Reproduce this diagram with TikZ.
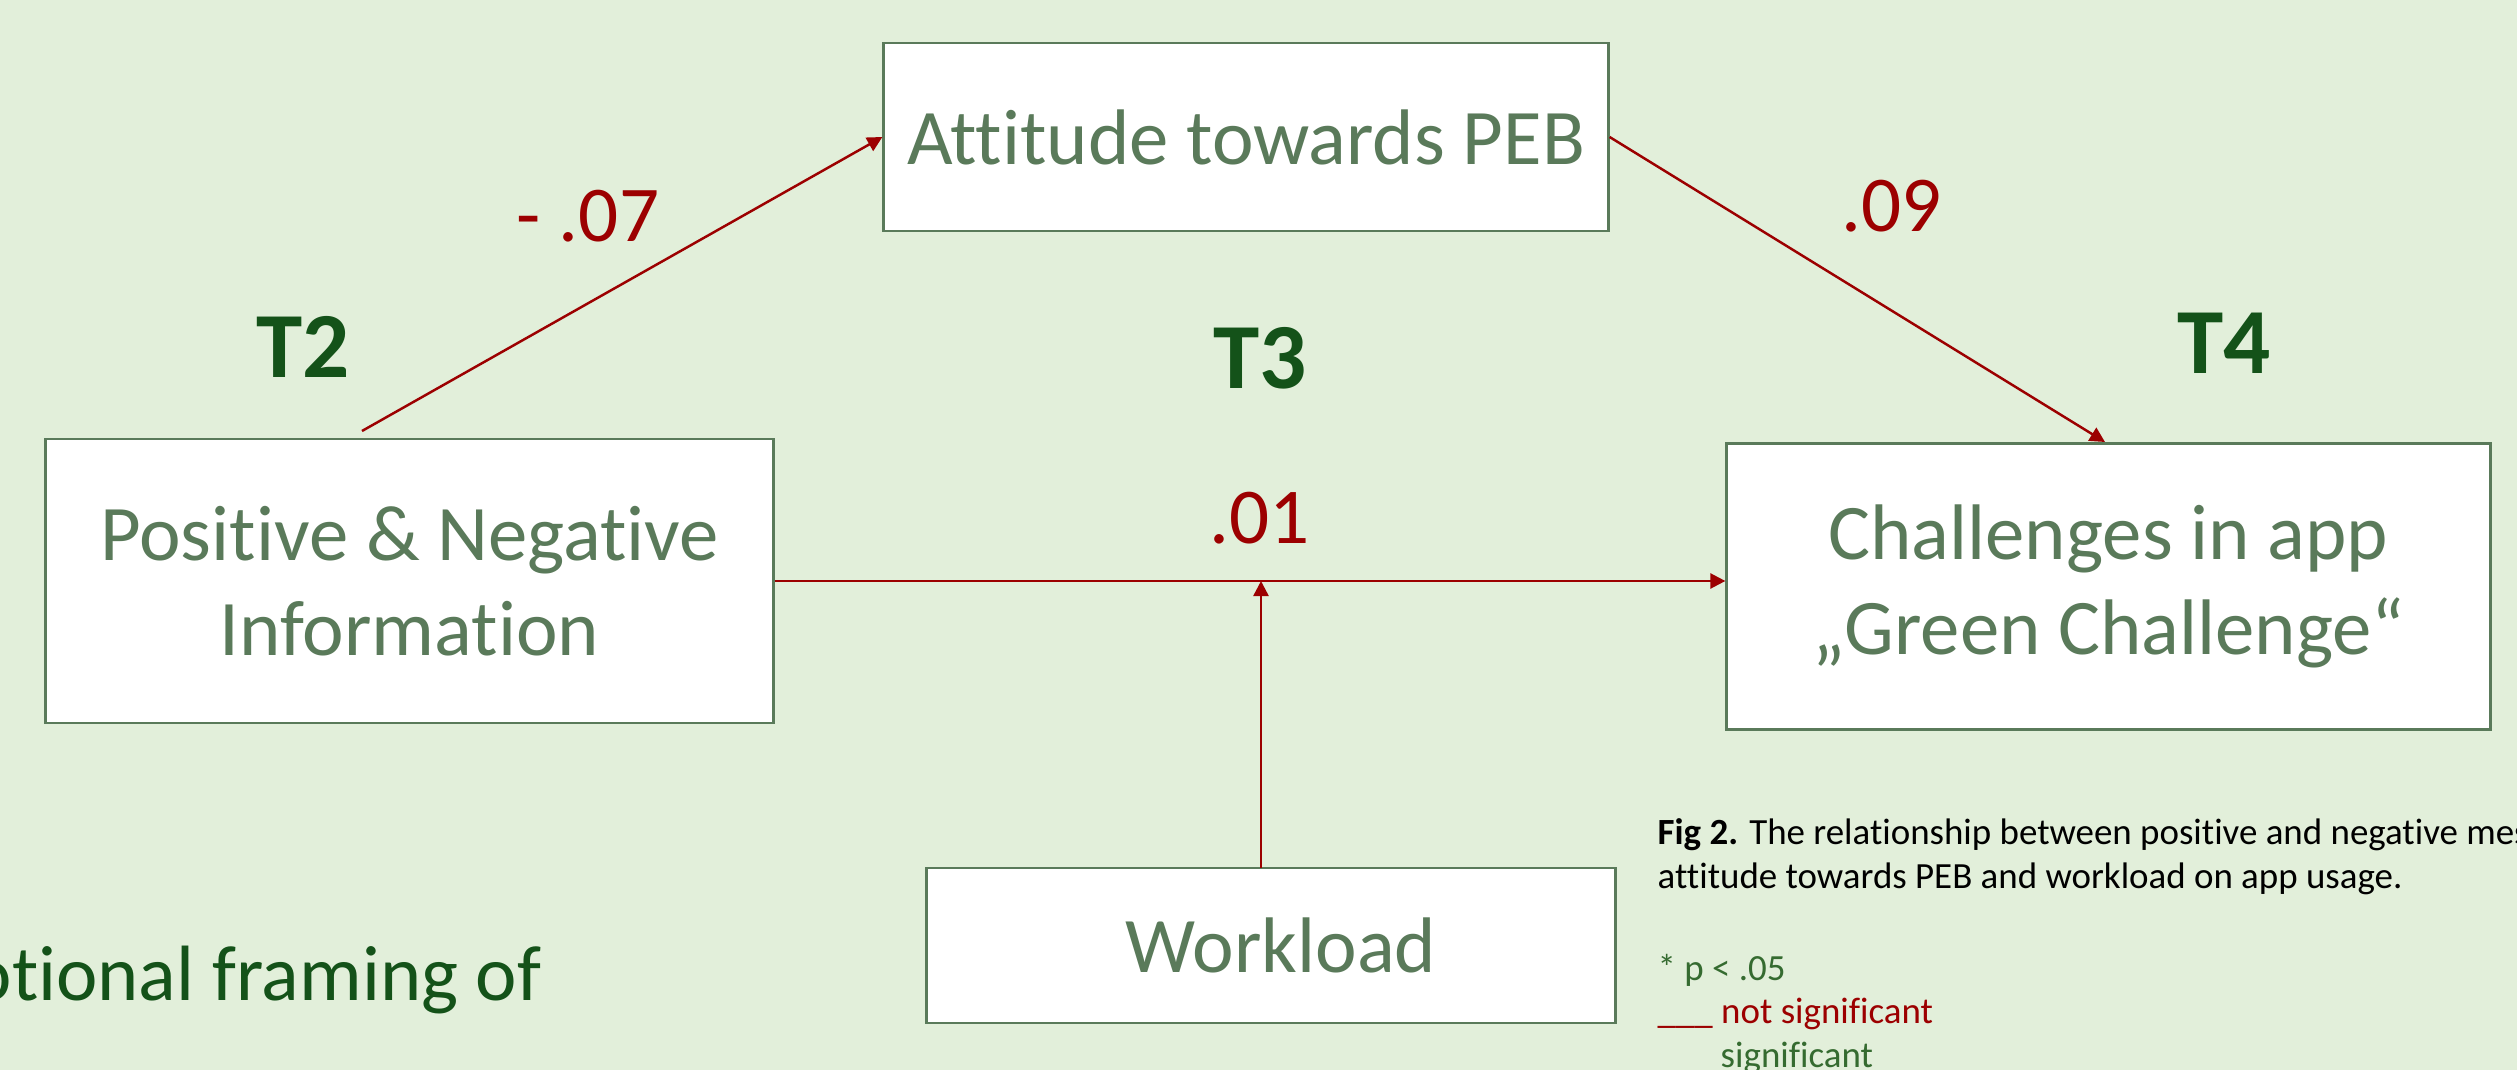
\documentclass[tikz,border=0pt]{standalone}
\usepackage{fontspec}
\setmainfont{Carlito}[Ligatures=NoCommon]
\usetikzlibrary{arrows.meta,calc}
\definecolor{bgc}{HTML}{E2EFDA}
\definecolor{boxc}{HTML}{5A7A5A}
\definecolor{redc}{HTML}{9C0000}
\definecolor{tgreen}{HTML}{145219}
\definecolor{lgreen}{HTML}{356B30}
\tikzset{
  box/.style={draw=boxc, line width=0.8pt, fill=white, inner sep=0pt, align=center,
    text=boxc, font=\fontsize{22.4}{27}\selectfont},
  arr/.style={draw=redc, line width=0.7pt, -{Triangle[length=0.15cm,width=0.15cm]}},
  coef/.style={text=redc, font=\fontsize{22.5}{26}\selectfont, inner sep=0pt},
  tlab/.style={text=tgreen, font=\bfseries\fontsize{26.5}{30}\selectfont, inner sep=0pt},
  captxt/.style={anchor=base west, inner sep=0pt, font=\fontsize{10.5}{12}\selectfont}
}
\begin{document}
\begin{tikzpicture}[x=0.01cm,y=-0.01cm]
\useasboundingbox (0,0) rectangle (2517,1070);
\fill[bgc] (0,0) rectangle (2517,1070);
\clip (0,0) rectangle (2517,1070);

\node[box, minimum width=7.24cm, minimum height=1.88cm] (att) at (1246,137) {Attitude towards PEB};
\node[box, minimum width=7.27cm, minimum height=2.84cm] (pos) at (409.5,581) {Positive \& Negative\\Information};
\node[box, minimum width=7.63cm, minimum height=2.86cm] (chal) at (2108.5,586.5) {Challenges in app\\„Green Challenge“};
\node[box, minimum width=6.89cm, minimum height=1.55cm] (work) at (1271,945.5) {\hspace*{0.2cm}Workload};

\coordinate (pstart) at (362,431);
\coordinate (wtop) at (1261,868);

\draw[arr] (pstart) -- (att.west);
\draw[arr] (att.east) -- ([xshift=-0.035cm]chal.north);
\draw[arr] (pos.east) -- (pos.east -| chal.west);
\draw[arr] (wtop) -- (wtop |- pos.east);

\node[coef] (c1) at (588,216) {- .07};
\node[coef] (c2) at (1892,206) {.09};
\node[coef] (c3) at (1260,518.5) {.01};

\node[tlab] (t2) at (303,347) {T2};
\node[tlab] (t3) at (1260,358) {T3};
\node[tlab] (t4) at (2224,343) {T4};

\node[anchor=base east, inner sep=0pt, text=tgreen, font=\fontsize{22.3}{27}\selectfont] (emo) at (542,1000) {Emotional framing of};

\node[captxt] (cap1) at (1657,844) {\textbf{Fig 2.} The relationship between positive and negative messages,};
\node[captxt] (cap2) at (1657,888) {attitude towards PEB and workload on app usage.};
\node[captxt, text=lgreen] (leg1) at (1657,980) {* p < .05};
\node[captxt, text=redc] (leg2) at (1657,1023) {\_\_\_ not significant};
\node[captxt, text=lgreen] (leg3) at (1720,1067) {significant};
\end{tikzpicture}
\end{document}
